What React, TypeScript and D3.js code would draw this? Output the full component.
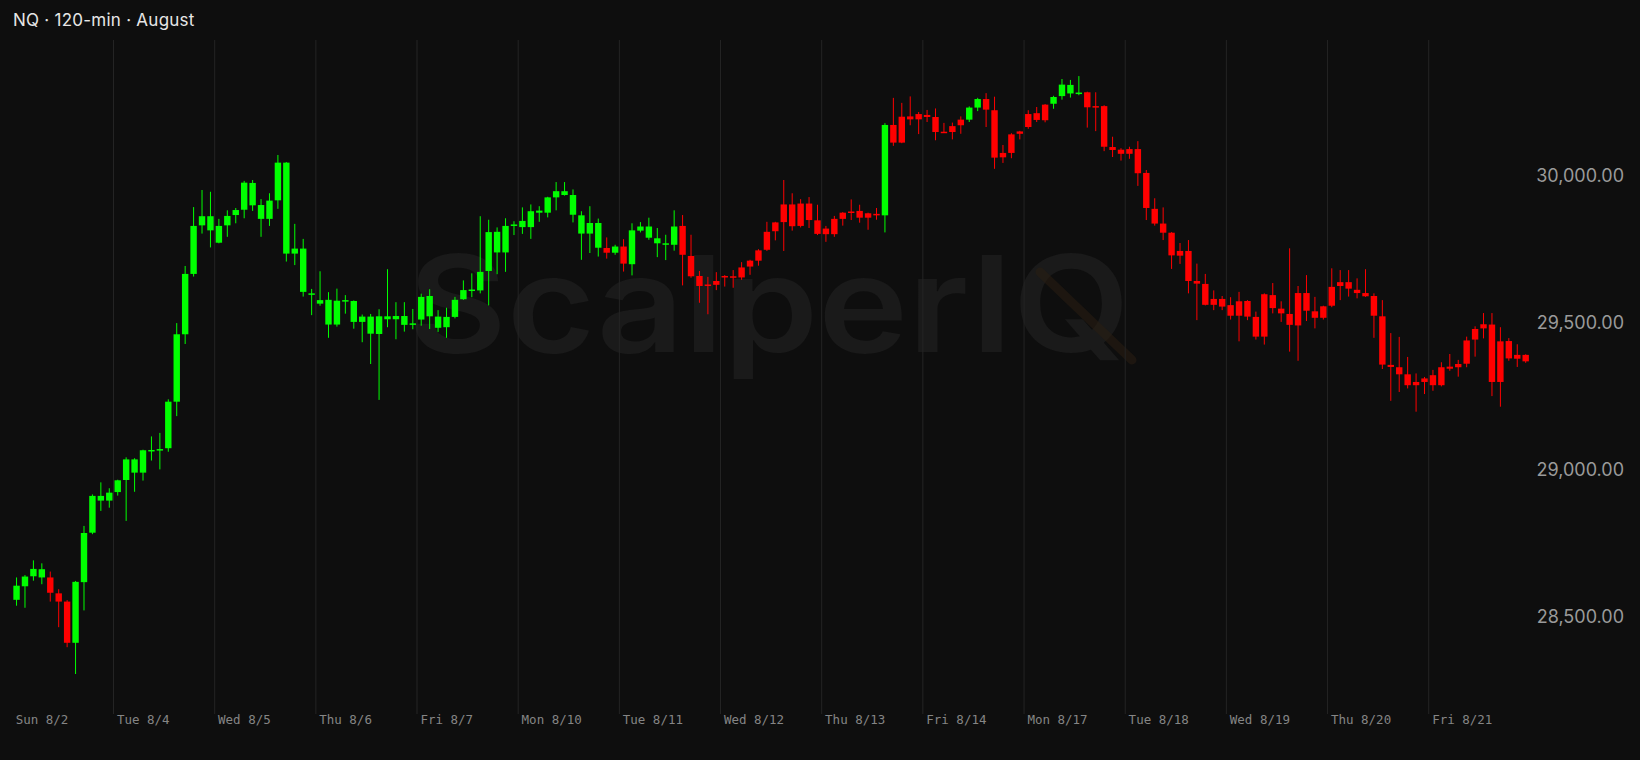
import React from "react";
import * as d3 from "d3";

const TITLE = "NQ · 120-min · August";
const WATERMARK = "ScalperIQ";

const dayLabels = [
  "Sun 8/2", "Tue 8/4", "Wed 8/5", "Thu 8/6", "Fri 8/7", "Mon 8/10", "Tue 8/11", "Wed 8/12",
  "Thu 8/13", "Fri 8/14", "Mon 8/17", "Tue 8/18", "Wed 8/19", "Thu 8/20", "Fri 8/21",
];
const barsPerDay = 12;

const priceTicks = [28500, 29000, 29500, 30000];

// OHLC per 120-min bar
const opens = [
  28557, 28603, 28637, 28633, 28633, 28579, 28551, 28411, 28617, 28785, 28894, 28894,
  28923, 28964, 28989, 28989, 29064, 29067, 29072, 29230, 29459, 29664, 29829, 29812,
  29770, 29829, 29864, 29882, 29897, 29851, 29851, 29914, 29733, 29733, 29603, 29596,
  29563, 29492, 29492, 29573, 29501, 29501, 29461, 29460, 29510, 29510, 29491, 29494,
  29509, 29520, 29481, 29483, 29518, 29578, 29609, 29608, 29674, 29737, 29737, 29830,
  29823, 29823, 29872, 29872, 29924, 29932, 29865, 29801, 29801, 29753, 29752, 29736,
  29757, 29697, 29811, 29787, 29768, 29766, 29763, 29827, 29725, 29657, 29628, 29640,
  29657, 29656, 29686, 29709, 29744, 29807, 29839, 29900, 29900, 29903, 29903, 29846,
  29818, 29851, 29872, 29876, 29878, 29870, 29868, 29863, 30170, 30198, 30199, 30207,
  30204, 30197, 30147, 30166, 30188, 30188, 30229, 30258, 30220, 30075, 30138, 30148,
  30207, 30210, 30239, 30242, 30268, 30277, 30278, 30281, 30234, 30234, 30095, 30086,
  30088, 30088, 30007, 29885, 29835, 29804, 29742, 29742, 29640, 29630, 29579, 29579,
  29558, 29571, 29572, 29518, 29595, 29592, 29546, 29528, 29599, 29599, 29537, 29554,
  29620, 29636, 29636, 29610, 29599, 29589, 29520, 29355, 29347, 29323, 29297, 29309,
  29320, 29347, 29349, 29358, 29438, 29477, 29493, 29492, 29435, 29436, 29389, 29389,
];
const highs = [
  28633, 28641, 28691, 28681, 28653, 28593, 28556, 28621, 28808, 28915, 28956, 28936,
  28965, 29041, 29038, 29067, 29112, 29124, 29238, 29497, 29691, 29891, 29949, 29943,
  29851, 29880, 29888, 29980, 29983, 29918, 29938, 30068, 30044, 29834, 29783, 29613,
  29673, 29602, 29614, 29592, 29574, 29526, 29528, 29544, 29680, 29568, 29568, 29545,
  29597, 29612, 29541, 29549, 29586, 29642, 29666, 29860, 29848, 29822, 29853, 29843,
  29890, 29900, 29894, 29926, 29976, 29976, 29951, 29877, 29894, 29852, 29788, 29763,
  29782, 29836, 29840, 29855, 29820, 29797, 29880, 29864, 29797, 29674, 29654, 29670,
  29660, 29677, 29704, 29712, 29748, 29841, 29841, 29983, 29938, 29918, 29925, 29899,
  29827, 29861, 29874, 29917, 29899, 29872, 29888, 30176, 30262, 30245, 30267, 30214,
  30221, 30226, 30177, 30178, 30199, 30233, 30262, 30278, 30266, 30102, 30142, 30150,
  30220, 30231, 30241, 30269, 30326, 30323, 30336, 30283, 30281, 30237, 30130, 30091,
  30096, 30115, 30017, 29921, 29890, 29806, 29769, 29779, 29699, 29664, 29608, 29589,
  29585, 29603, 29575, 29536, 29598, 29633, 29571, 29751, 29623, 29660, 29586, 29556,
  29683, 29677, 29677, 29649, 29680, 29598, 29575, 29463, 29450, 29382, 29326, 29314,
  29338, 29364, 29392, 29372, 29451, 29486, 29531, 29531, 29483, 29446, 29425, 29391,
];
const lows = [
  28537, 28530, 28622, 28610, 28551, 28464, 28396, 28305, 28521, 28780, 28859, 28870,
  28911, 28825, 28924, 28962, 29030, 29000, 29060, 29181, 29426, 29655, 29801, 29754,
  29768, 29790, 29836, 29853, 29878, 29790, 29827, 29885, 29706, 29694, 29587, 29524,
  29556, 29447, 29485, 29529, 29478, 29432, 29358, 29236, 29483, 29442, 29468, 29476,
  29488, 29477, 29467, 29447, 29513, 29576, 29585, 29598, 29557, 29663, 29671, 29796,
  29800, 29783, 29841, 29856, 29880, 29930, 29839, 29712, 29735, 29723, 29716, 29729,
  29672, 29659, 29805, 29780, 29721, 29711, 29743, 29625, 29651, 29566, 29527, 29609,
  29621, 29617, 29644, 29661, 29692, 29742, 29778, 29742, 29811, 29822, 29820, 29796,
  29773, 29790, 29828, 29847, 29838, 29814, 29848, 29805, 30099, 30108, 30169, 30139,
  30180, 30118, 30143, 30121, 30140, 30180, 30217, 30163, 30021, 30041, 30057, 30121,
  30157, 30180, 30179, 30225, 30256, 30263, 30271, 30161, 30149, 30081, 30061, 30049,
  30055, 29963, 29847, 29828, 29779, 29681, 29698, 29598, 29507, 29557, 29541, 29541,
  29509, 29435, 29507, 29441, 29424, 29530, 29501, 29400, 29369, 29504, 29479, 29509,
  29551, 29575, 29587, 29581, 29586, 29447, 29341, 29233, 29263, 29275, 29196, 29256,
  29267, 29282, 29335, 29315, 29347, 29383, 29445, 29249, 29213, 29369, 29348, 29362,
];
const closes = [
  28605, 28636, 28662, 28661, 28581, 28551, 28411, 28618, 28784, 28910, 28910, 28921,
  28963, 29034, 29034, 29065, 29066, 29069, 29230, 29459, 29664, 29827, 29860, 29860,
  29827, 29861, 29881, 29974, 29973, 29898, 29913, 30042, 30042, 29750, 29750, 29598,
  29575, 29576, 29573, 29575, 29572, 29519, 29519, 29520, 29520, 29521, 29521, 29496,
  29586, 29589, 29519, 29518, 29576, 29609, 29611, 29671, 29806, 29807, 29827, 29832,
  29844, 29877, 29879, 29924, 29945, 29945, 29932, 29863, 29837, 29837, 29736, 29757,
  29699, 29812, 29825, 29825, 29785, 29768, 29825, 29729, 29656, 29623, 29625, 29627,
  29654, 29653, 29652, 29689, 29709, 29746, 29809, 29840, 29826, 29827, 29847, 29800,
  29799, 29799, 29851, 29873, 29855, 29855, 29865, 30170, 30110, 30110, 30189, 30189,
  30197, 30146, 30144, 30146, 30169, 30229, 30258, 30222, 30059, 30060, 30075, 30140,
  30163, 30187, 30186, 30265, 30307, 30306, 30280, 30230, 30231, 30096, 30085, 30072,
  30072, 30006, 29888, 29835, 29804, 29727, 29726, 29640, 29631, 29559, 29559, 29553,
  29522, 29522, 29519, 29451, 29451, 29548, 29530, 29491, 29489, 29539, 29515, 29515,
  29556, 29623, 29614, 29599, 29588, 29522, 29356, 29348, 29323, 29286, 29286, 29297,
  29286, 29286, 29342, 29347, 29359, 29441, 29479, 29297, 29297, 29377, 29376, 29367,
];

const W = 1640;
const H = 760;
const UP = "#00ff00";
const DOWN = "#ff0000";
const BG = "#0e0e0e";

export default function App() {
  const n = opens.length;
  const x = d3.scaleLinear().domain([0, n]).range([12.33, 1529.9]);
  const y = d3.scaleLinear().domain([28500, 30000]).range([616.6, 175]);
  const step = x(1) - x(0);
  const bodyW = step * 0.76;
  const fmt = d3.format(",.2f");
  const dayIdx = d3.range(dayLabels.length).map((d) => d * barsPerDay);

  return (
    <div style={{ position: "absolute", left: 0, top: 0, width: W, height: H }}>
      <svg width={W} height={H} style={{ display: "block" }}>
        <rect x={0} y={0} width={W} height={H} fill={BG} />
        {/* watermark */}
        <g>
          <text
            x={408}
            y={352}
            fontFamily="Inter, 'Open Sans', sans-serif"
            fontWeight={600}
            fontSize={134}
            fill="#1a1a1a"
            textLength={722}
            lengthAdjust="spacingAndGlyphs"
          >
            {WATERMARK}
          </text>
          <line x1={1040} y1={272} x2={1132} y2={360} stroke="#2a1e12" strokeWidth={9} strokeLinecap="round" opacity={0.55} />
        </g>
        {/* vertical day grid */}
        {dayIdx.slice(1).map((i) => (
          <line key={"g" + i} x1={x(i)} x2={x(i)} y1={40} y2={714} stroke="#242424" strokeWidth={1} />
        ))}
        {/* candles */}
        {opens.map((o, i) => {
          const c = closes[i];
          const up = c >= o;
          const col = up ? UP : DOWN;
          const cx = x(i + 0.5);
          const top = y(Math.max(o, c));
          const bot = y(Math.min(o, c));
          const h = Math.max(1.5, bot - top);
          return (
            <g key={i}>
              <line x1={cx} x2={cx} y1={y(highs[i])} y2={y(lows[i])} stroke={col} strokeWidth={1} />
              <rect x={cx - bodyW / 2} y={top} width={bodyW} height={h} fill={col} />
            </g>
          );
        })}
        {/* x axis labels */}
        {dayIdx.map((i, k) => (
          <text
            key={"d" + k}
            x={x(i) + 3.4}
            y={724}
            fontFamily="'DejaVu Sans Mono', 'Liberation Mono', monospace"
            fontSize={12.5}
            fill="#858585"
          >
            {dayLabels[k]}
          </text>
        ))}
        {/* y axis labels */}
        {priceTicks.map((v) => (
          <text
            key={"p" + v}
            x={1624}
            y={y(v)}
            textAnchor="end"
            dominantBaseline="central"
            fontFamily="Inter, Roboto, sans-serif"
            fontSize={18}
            fill="#9a9a9a"
          >
            {fmt(v)}
          </text>
        ))}
        {/* title */}
        <text x={13} y={26} fontFamily="Inter, Lato, sans-serif" fontSize={17} letterSpacing={0.25} fill="#e6e6e6">
          {TITLE}
        </text>
      </svg>
    </div>
  );
}
